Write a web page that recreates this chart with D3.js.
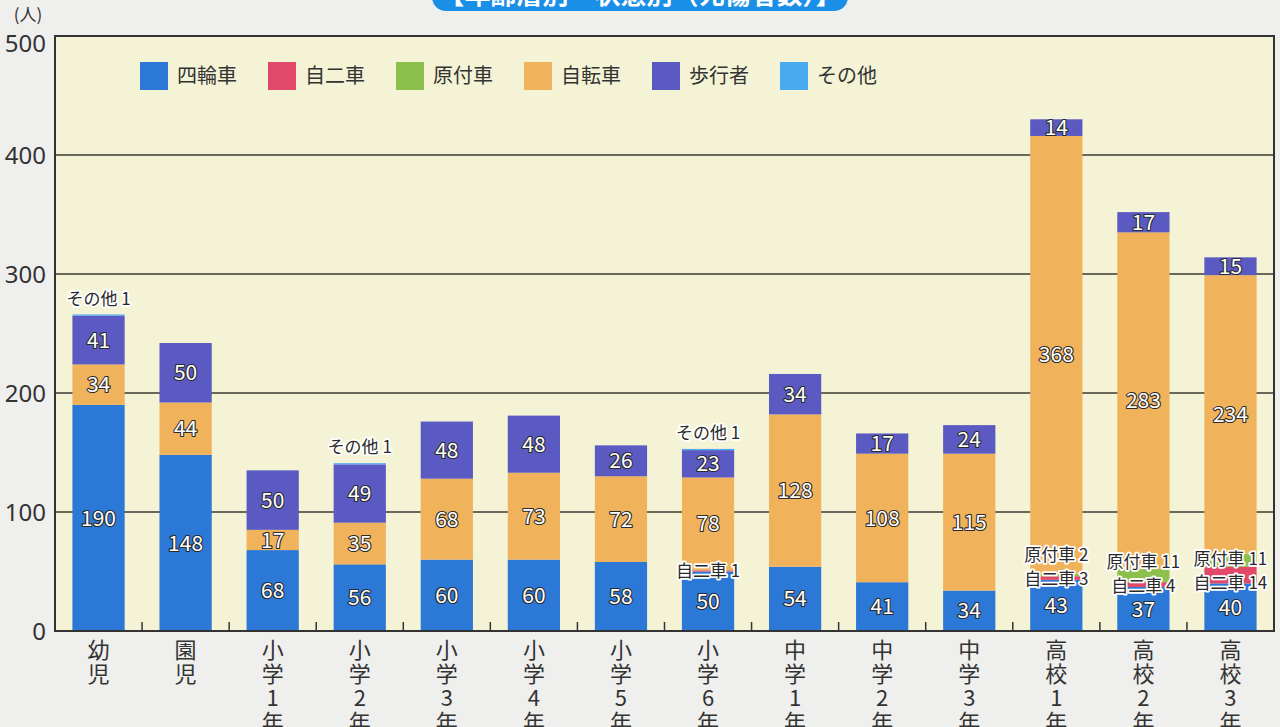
<!DOCTYPE html>
<html>
<head>
<meta charset="utf-8">
<script src="https://cdn.jsdelivr.net/npm/d3@7"></script>
<style>
  body { margin: 0; background: #efefed; }
  svg { display: block; font-family: "Noto Sans CJK JP", "Noto Sans", sans-serif; }
</style>
</head>
<body>
<div id="chart"></div>
<script>
// data (人)
const categories = ["幼児", "園児", "小学1年", "小学2年", "小学3年", "小学4年", "小学5年",
  "小学6年", "中学1年", "中学2年", "中学3年", "高校1年", "高校2年", "高校3年"];
const seriesNames = ["四輪車", "自二車", "原付車", "自転車", "歩行者", "その他"];
const yonrin   = [190, 148, 68, 56, 60, 60, 58, 50, 54, 41, 34, 43, 37, 40];
const jini     = [0, 0, 0, 0, 0, 0, 0, 1, 0, 0, 0, 3, 4, 14];
const gentsuki = [0, 0, 0, 0, 0, 0, 0, 0, 0, 0, 0, 2, 11, 11];
const jitensha = [34, 44, 17, 35, 68, 73, 72, 78, 128, 108, 115, 368, 283, 234];
const hokou    = [41, 50, 50, 49, 48, 48, 26, 23, 34, 17, 24, 14, 17, 15];
const sonota   = [1, 0, 0, 1, 0, 0, 0, 1, 0, 0, 0, 0, 0, 0];
const yTicks = [0, 100, 200, 300, 400, 500];

const colors = ["#2b78d6", "#e2486a", "#8dbf4c", "#f0b35c", "#5a5ac2", "#4aaaf0"];
const inside = ["四輪車", "自転車", "歩行者"]; // labelled inside the segment

const W = 1280, H = 727;
const margin = { top: 36, right: 6, bottom: 96, left: 55 };

const table = categories.map((c, i) => ({
  cat: c,
  "四輪車": yonrin[i], "自二車": jini[i], "原付車": gentsuki[i],
  "自転車": jitensha[i], "歩行者": hokou[i], "その他": sonota[i]
}));
const stacked = d3.stack().keys(seriesNames)(table);

const svg = d3.select("#chart").append("svg")
  .attr("width", W).attr("height", H);

// title banner (cut off at top edge)
svg.append("rect")
  .attr("x", 432).attr("y", -40).attr("width", 416).attr("height", 51)
  .attr("rx", 14).attr("fill", "#1a8fe8");
svg.append("text")
  .attr("x", 640).attr("y", 4)
  .attr("text-anchor", "middle")
  .attr("font-size", 26).attr("font-weight", "bold")
  .attr("fill", "#fff")
  .text("【年齢層別・状態別（死傷者数）】");

const x = d3.scaleBand(categories, [margin.left, W - margin.right])
  .paddingInner(0.4).paddingOuter(0.2);
const y = d3.scaleLinear([0, 500], [H - margin.bottom, margin.top]);
const color = d3.scaleOrdinal(seriesNames, colors);

// plot background
svg.append("rect")
  .attr("x", margin.left).attr("y", margin.top)
  .attr("width", W - margin.left - margin.right)
  .attr("height", H - margin.top - margin.bottom)
  .attr("fill", "#f5f3d6");

// grid lines
svg.append("g").selectAll("line")
  .data(yTicks.slice(1, -1))
  .join("line")
  .attr("x1", margin.left).attr("x2", W - margin.right)
  .attr("y1", d => y(d)).attr("y2", d => y(d))
  .attr("stroke", "#3a3a30").attr("stroke-width", 1.5);

// y labels
svg.append("g").selectAll("text")
  .data(yTicks)
  .join("text")
  .attr("x", 46).attr("y", d => y(d) + (d === 500 ? 7 : 0))
  .attr("dy", "0.36em")
  .attr("text-anchor", "end")
  .attr("font-size", 24).attr("fill", "#333")
  .attr("font-family", "'Noto Sans', sans-serif")
  .text(d => d);
svg.append("text")
  .attr("x", 28).attr("y", 21)
  .attr("text-anchor", "middle")
  .attr("font-size", 17).attr("fill", "#333")
  .text("(人)");

// bars
const layer = svg.append("g").selectAll("g")
  .data(stacked)
  .join("g")
  .attr("fill", d => color(d.key));
layer.selectAll("rect")
  .data(d => d)
  .join("rect")
  .attr("x", d => x(d.data.cat))
  .attr("width", x.bandwidth())
  .attr("y", d => y(d[1]))
  .attr("height", d => y(d[0]) - y(d[1]));

// inside value labels
const insideData = stacked.filter(s => inside.includes(s.key))
  .flatMap(s => s.map(d => ({ cat: d.data.cat, v: d[1] - d[0], mid: (d[0] + d[1]) / 2 })))
  .filter(d => d.v > 0);
svg.append("g").selectAll("text")
  .data(insideData)
  .join("text")
  .attr("x", d => x(d.cat) + x.bandwidth() / 2)
  .attr("y", d => y(d.mid))
  .attr("dy", "0.36em")
  .attr("text-anchor", "middle")
  .attr("font-size", 21)
  .attr("fill", "#fff")
  .attr("stroke", "#2a2a2a").attr("stroke-width", 2.2)
  .attr("paint-order", "stroke")
  .attr("stroke-linejoin", "round")
  .text(d => d.v);

// outside small labels
const notes = [];
categories.forEach((c, i) => {
  const cx = x(c) + x.bandwidth() / 2;
  const top = stacked[5][i][1];
  if (sonota[i] > 0) notes.push({ x: cx, y: y(top) - 16, t: "その他 " + sonota[i] });
  const base = y(yonrin[i]);
  if (jini[i] > 0) notes.push({ x: cx, y: base - 1, t: "自二車 " + jini[i] });
  if (gentsuki[i] > 0) notes.push({ x: cx, y: base - 25, t: "原付車 " + gentsuki[i] });
});
svg.append("g").selectAll("text")
  .data(notes)
  .join("text")
  .attr("x", d => d.x).attr("y", d => d.y)
  .attr("dy", "0.36em")
  .attr("text-anchor", "middle")
  .attr("font-size", 17)
  .attr("fill", "#2a2a2a")
  .attr("stroke", "#fff").attr("stroke-width", 3.5)
  .attr("paint-order", "stroke")
  .attr("stroke-linejoin", "round")
  .text(d => d.t);

// frame
svg.append("rect")
  .attr("x", margin.left).attr("y", margin.top)
  .attr("width", W - margin.left - margin.right)
  .attr("height", H - margin.top - margin.bottom)
  .attr("fill", "none").attr("stroke", "#333").attr("stroke-width", 2);

// category boundary ticks
svg.append("g").selectAll("line")
  .data(categories.slice(1))
  .join("line")
  .attr("x1", d => x(d) - x.step() * 0.2).attr("x2", d => x(d) - x.step() * 0.2)
  .attr("y1", y(0)).attr("y2", y(0) - 9)
  .attr("stroke", "#333").attr("stroke-width", 1.5);

// x labels, written vertically
const xl = svg.append("g").selectAll("text")
  .data(categories)
  .join("text")
  .attr("text-anchor", "middle")
  .attr("font-size", 22)
  .attr("fill", "#333");
xl.selectAll("tspan")
  .data(d => Array.from(d).map(ch => ({ cat: d, ch })))
  .join("tspan")
  .attr("x", d => x(d.cat) + x.bandwidth() / 2)
  .attr("y", (d, i) => 658 + i * 24)
  .text(d => d.ch);

// legend
const lg = svg.append("g").selectAll("g")
  .data(seriesNames)
  .join("g")
  .attr("transform", (d, i) => `translate(${140 + i * 128}, 62)`);
lg.append("rect")
  .attr("width", 28).attr("height", 28)
  .attr("fill", d => color(d));
lg.append("text")
  .attr("x", 37).attr("y", 14)
  .attr("dy", "0.36em")
  .attr("font-size", 20).attr("fill", "#333")
  .text(d => d);
</script>
</body>
</html>
